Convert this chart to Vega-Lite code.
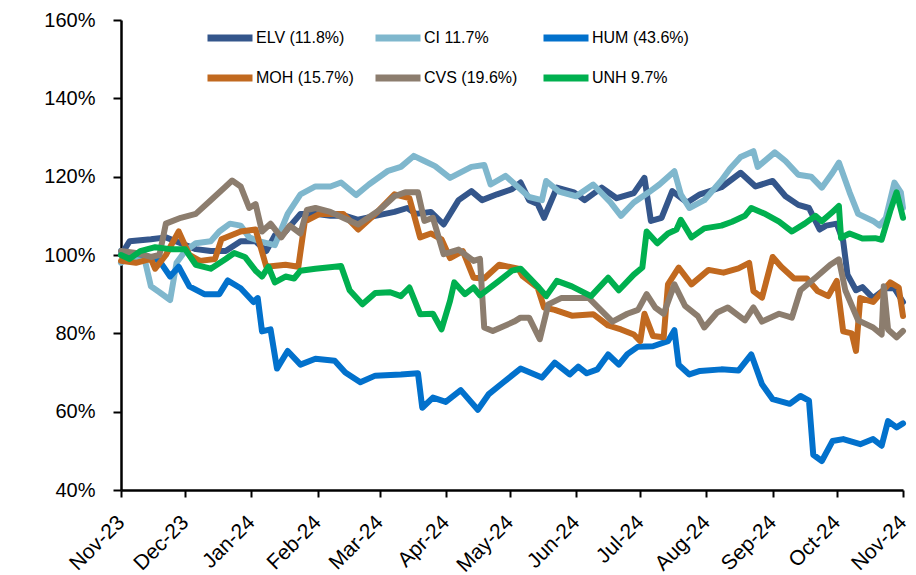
{
"$schema":"https://vega.github.io/schema/vega-lite/v6.json",
"width":782,"height":470,
"autosize":{"type":"none"},
"padding":{"left":121,"top":20,"right":13,"bottom":85},
"background":"white",
"config":{"view":{"stroke":null},"font":"Liberation Sans"},
"data":{"values":[
{"t":"ELV (11.8%)","d":"2023-11-01","v":100},{"t":"ELV (11.8%)","d":"2023-11-05","v":103.5},{"t":"ELV (11.8%)","d":"2023-11-15","v":104},{"t":"ELV (11.8%)","d":"2023-11-22","v":104.5},{"t":"ELV (11.8%)","d":"2023-11-29","v":103},{"t":"ELV (11.8%)","d":"2023-12-06","v":101.5},{"t":"ELV (11.8%)","d":"2023-12-13","v":101},{"t":"ELV (11.8%)","d":"2023-12-20","v":101},{"t":"ELV (11.8%)","d":"2023-12-27","v":103.5},{"t":"ELV (11.8%)","d":"2024-01-03","v":103.5},{"t":"ELV (11.8%)","d":"2024-01-08","v":101},{"t":"ELV (11.8%)","d":"2024-01-12","v":105},{"t":"ELV (11.8%)","d":"2024-01-17","v":106},{"t":"ELV (11.8%)","d":"2024-01-24","v":110.5},{"t":"ELV (11.8%)","d":"2024-01-31","v":110.5},{"t":"ELV (11.8%)","d":"2024-02-07","v":110},{"t":"ELV (11.8%)","d":"2024-02-14","v":110},{"t":"ELV (11.8%)","d":"2024-02-20","v":109},{"t":"ELV (11.8%)","d":"2024-02-28","v":110},{"t":"ELV (11.8%)","d":"2024-03-08","v":111},{"t":"ELV (11.8%)","d":"2024-03-14","v":112},{"t":"ELV (11.8%)","d":"2024-03-18","v":110.5},{"t":"ELV (11.8%)","d":"2024-03-25","v":111},{"t":"ELV (11.8%)","d":"2024-03-31","v":107.8},{"t":"ELV (11.8%)","d":"2024-04-07","v":114},{"t":"ELV (11.8%)","d":"2024-04-13","v":116.3},{"t":"ELV (11.8%)","d":"2024-04-18","v":114},{"t":"ELV (11.8%)","d":"2024-04-25","v":115.5},{"t":"ELV (11.8%)","d":"2024-05-02","v":116.8},{"t":"ELV (11.8%)","d":"2024-05-06","v":118.5},{"t":"ELV (11.8%)","d":"2024-05-10","v":114},{"t":"ELV (11.8%)","d":"2024-05-14","v":113},{"t":"ELV (11.8%)","d":"2024-05-17","v":109.5},{"t":"ELV (11.8%)","d":"2024-05-23","v":117.2},{"t":"ELV (11.8%)","d":"2024-05-31","v":116},{"t":"ELV (11.8%)","d":"2024-06-05","v":114},{"t":"ELV (11.8%)","d":"2024-06-13","v":117.2},{"t":"ELV (11.8%)","d":"2024-06-20","v":114.5},{"t":"ELV (11.8%)","d":"2024-06-28","v":115.8},{"t":"ELV (11.8%)","d":"2024-07-03","v":119.7},{"t":"ELV (11.8%)","d":"2024-07-06","v":108.7},{"t":"ELV (11.8%)","d":"2024-07-11","v":109.5},{"t":"ELV (11.8%)","d":"2024-07-16","v":116.3},{"t":"ELV (11.8%)","d":"2024-07-23","v":113.4},{"t":"ELV (11.8%)","d":"2024-07-29","v":115.5},{"t":"ELV (11.8%)","d":"2024-08-08","v":117.3},{"t":"ELV (11.8%)","d":"2024-08-17","v":121},{"t":"ELV (11.8%)","d":"2024-08-24","v":117.5},{"t":"ELV (11.8%)","d":"2024-09-01","v":118.9},{"t":"ELV (11.8%)","d":"2024-09-07","v":115},{"t":"ELV (11.8%)","d":"2024-09-13","v":112.8},{"t":"ELV (11.8%)","d":"2024-09-18","v":112},{"t":"ELV (11.8%)","d":"2024-09-23","v":106.5},{"t":"ELV (11.8%)","d":"2024-09-26","v":107.5},{"t":"ELV (11.8%)","d":"2024-10-01","v":108},{"t":"ELV (11.8%)","d":"2024-10-04","v":103.6},{"t":"ELV (11.8%)","d":"2024-10-06","v":95},{"t":"ELV (11.8%)","d":"2024-10-10","v":91},{"t":"ELV (11.8%)","d":"2024-10-13","v":91.8},{"t":"ELV (11.8%)","d":"2024-10-18","v":89},{"t":"ELV (11.8%)","d":"2024-10-24","v":91.5},{"t":"ELV (11.8%)","d":"2024-10-28","v":91.5},{"t":"ELV (11.8%)","d":"2024-11-01","v":88},
{"t":"CI 11.7%","d":"2023-11-01","v":98},{"t":"CI 11.7%","d":"2023-11-05","v":99.5},{"t":"CI 11.7%","d":"2023-11-12","v":99},{"t":"CI 11.7%","d":"2023-11-15","v":92},{"t":"CI 11.7%","d":"2023-11-19","v":90.5},{"t":"CI 11.7%","d":"2023-11-24","v":88.5},{"t":"CI 11.7%","d":"2023-11-27","v":98},{"t":"CI 11.7%","d":"2023-12-01","v":101},{"t":"CI 11.7%","d":"2023-12-06","v":103},{"t":"CI 11.7%","d":"2023-12-13","v":103.5},{"t":"CI 11.7%","d":"2023-12-17","v":106},{"t":"CI 11.7%","d":"2023-12-22","v":108},{"t":"CI 11.7%","d":"2023-12-27","v":107.5},{"t":"CI 11.7%","d":"2023-12-31","v":104.5},{"t":"CI 11.7%","d":"2024-01-05","v":103.5},{"t":"CI 11.7%","d":"2024-01-12","v":102.5},{"t":"CI 11.7%","d":"2024-01-18","v":110.5},{"t":"CI 11.7%","d":"2024-01-24","v":115.5},{"t":"CI 11.7%","d":"2024-01-31","v":117.5},{"t":"CI 11.7%","d":"2024-02-07","v":117.5},{"t":"CI 11.7%","d":"2024-02-12","v":118.5},{"t":"CI 11.7%","d":"2024-02-19","v":115.3},{"t":"CI 11.7%","d":"2024-02-25","v":118},{"t":"CI 11.7%","d":"2024-03-05","v":121.5},{"t":"CI 11.7%","d":"2024-03-11","v":122.5},{"t":"CI 11.7%","d":"2024-03-17","v":125.3},{"t":"CI 11.7%","d":"2024-03-22","v":124},{"t":"CI 11.7%","d":"2024-03-27","v":122.7},{"t":"CI 11.7%","d":"2024-04-03","v":119.7},{"t":"CI 11.7%","d":"2024-04-13","v":122.5},{"t":"CI 11.7%","d":"2024-04-19","v":123},{"t":"CI 11.7%","d":"2024-04-22","v":118},{"t":"CI 11.7%","d":"2024-04-29","v":120.2},{"t":"CI 11.7%","d":"2024-05-10","v":114.8},{"t":"CI 11.7%","d":"2024-05-16","v":114},{"t":"CI 11.7%","d":"2024-05-18","v":118.9},{"t":"CI 11.7%","d":"2024-05-24","v":116.2},{"t":"CI 11.7%","d":"2024-06-01","v":115},{"t":"CI 11.7%","d":"2024-06-09","v":118},{"t":"CI 11.7%","d":"2024-06-17","v":113.5},{"t":"CI 11.7%","d":"2024-06-22","v":110},{"t":"CI 11.7%","d":"2024-06-28","v":113.4},{"t":"CI 11.7%","d":"2024-07-05","v":116},{"t":"CI 11.7%","d":"2024-07-10","v":118},{"t":"CI 11.7%","d":"2024-07-17","v":121.4},{"t":"CI 11.7%","d":"2024-07-20","v":115.5},{"t":"CI 11.7%","d":"2024-07-24","v":112},{"t":"CI 11.7%","d":"2024-07-31","v":114},{"t":"CI 11.7%","d":"2024-08-08","v":119},{"t":"CI 11.7%","d":"2024-08-12","v":122},{"t":"CI 11.7%","d":"2024-08-17","v":125},{"t":"CI 11.7%","d":"2024-08-23","v":126.5},{"t":"CI 11.7%","d":"2024-08-25","v":122.5},{"t":"CI 11.7%","d":"2024-09-02","v":126.2},{"t":"CI 11.7%","d":"2024-09-07","v":124},{"t":"CI 11.7%","d":"2024-09-13","v":120.5},{"t":"CI 11.7%","d":"2024-09-19","v":120},{"t":"CI 11.7%","d":"2024-09-24","v":117.2},{"t":"CI 11.7%","d":"2024-09-29","v":121},{"t":"CI 11.7%","d":"2024-10-02","v":123.6},{"t":"CI 11.7%","d":"2024-10-07","v":116},{"t":"CI 11.7%","d":"2024-10-11","v":110.5},{"t":"CI 11.7%","d":"2024-10-18","v":108.7},{"t":"CI 11.7%","d":"2024-10-21","v":107.5},{"t":"CI 11.7%","d":"2024-10-24","v":109.5},{"t":"CI 11.7%","d":"2024-10-28","v":118.5},{"t":"CI 11.7%","d":"2024-10-31","v":116},{"t":"CI 11.7%","d":"2024-11-01","v":112},
{"t":"HUM (43.6%)","d":"2023-11-01","v":101},{"t":"HUM (43.6%)","d":"2023-11-05","v":100.5},{"t":"HUM (43.6%)","d":"2023-11-12","v":100},{"t":"HUM (43.6%)","d":"2023-11-19","v":98.5},{"t":"HUM (43.6%)","d":"2023-11-24","v":94.5},{"t":"HUM (43.6%)","d":"2023-11-28","v":97},{"t":"HUM (43.6%)","d":"2023-12-03","v":92},{"t":"HUM (43.6%)","d":"2023-12-10","v":90},{"t":"HUM (43.6%)","d":"2023-12-17","v":90},{"t":"HUM (43.6%)","d":"2023-12-21","v":93.5},{"t":"HUM (43.6%)","d":"2023-12-27","v":91.5},{"t":"HUM (43.6%)","d":"2024-01-02","v":88},{"t":"HUM (43.6%)","d":"2024-01-04","v":89},{"t":"HUM (43.6%)","d":"2024-01-06","v":80.5},{"t":"HUM (43.6%)","d":"2024-01-10","v":81},{"t":"HUM (43.6%)","d":"2024-01-13","v":71},{"t":"HUM (43.6%)","d":"2024-01-18","v":75.5},{"t":"HUM (43.6%)","d":"2024-01-24","v":72},{"t":"HUM (43.6%)","d":"2024-01-31","v":73.5},{"t":"HUM (43.6%)","d":"2024-02-09","v":73},{"t":"HUM (43.6%)","d":"2024-02-14","v":70},{"t":"HUM (43.6%)","d":"2024-02-21","v":67.5},{"t":"HUM (43.6%)","d":"2024-02-28","v":69.2},{"t":"HUM (43.6%)","d":"2024-03-11","v":69.5},{"t":"HUM (43.6%)","d":"2024-03-19","v":69.8},{"t":"HUM (43.6%)","d":"2024-03-21","v":61},{"t":"HUM (43.6%)","d":"2024-03-26","v":63.6},{"t":"HUM (43.6%)","d":"2024-04-01","v":62.5},{"t":"HUM (43.6%)","d":"2024-04-08","v":65.5},{"t":"HUM (43.6%)","d":"2024-04-16","v":60.5},{"t":"HUM (43.6%)","d":"2024-04-21","v":64.4},{"t":"HUM (43.6%)","d":"2024-04-28","v":67.5},{"t":"HUM (43.6%)","d":"2024-05-06","v":71},{"t":"HUM (43.6%)","d":"2024-05-16","v":68.7},{"t":"HUM (43.6%)","d":"2024-05-22","v":72.5},{"t":"HUM (43.6%)","d":"2024-05-29","v":69.5},{"t":"HUM (43.6%)","d":"2024-06-02","v":71.5},{"t":"HUM (43.6%)","d":"2024-06-06","v":69.8},{"t":"HUM (43.6%)","d":"2024-06-11","v":70.8},{"t":"HUM (43.6%)","d":"2024-06-16","v":74.6},{"t":"HUM (43.6%)","d":"2024-06-21","v":72},{"t":"HUM (43.6%)","d":"2024-06-25","v":74.7},{"t":"HUM (43.6%)","d":"2024-06-30","v":76.6},{"t":"HUM (43.6%)","d":"2024-07-07","v":76.7},{"t":"HUM (43.6%)","d":"2024-07-14","v":78},{"t":"HUM (43.6%)","d":"2024-07-17","v":80.8},{"t":"HUM (43.6%)","d":"2024-07-19","v":72},{"t":"HUM (43.6%)","d":"2024-07-24","v":69.5},{"t":"HUM (43.6%)","d":"2024-07-29","v":70.4},{"t":"HUM (43.6%)","d":"2024-08-08","v":70.8},{"t":"HUM (43.6%)","d":"2024-08-16","v":70.5},{"t":"HUM (43.6%)","d":"2024-08-22","v":74.6},{"t":"HUM (43.6%)","d":"2024-08-27","v":67},{"t":"HUM (43.6%)","d":"2024-09-01","v":63.2},{"t":"HUM (43.6%)","d":"2024-09-09","v":62},{"t":"HUM (43.6%)","d":"2024-09-14","v":64},{"t":"HUM (43.6%)","d":"2024-09-18","v":62.8},{"t":"HUM (43.6%)","d":"2024-09-20","v":49},{"t":"HUM (43.6%)","d":"2024-09-24","v":47.4},{"t":"HUM (43.6%)","d":"2024-09-29","v":52.5},{"t":"HUM (43.6%)","d":"2024-10-04","v":53},{"t":"HUM (43.6%)","d":"2024-10-12","v":51.7},{"t":"HUM (43.6%)","d":"2024-10-18","v":53},{"t":"HUM (43.6%)","d":"2024-10-22","v":51.3},{"t":"HUM (43.6%)","d":"2024-10-25","v":57.6},{"t":"HUM (43.6%)","d":"2024-10-29","v":56},{"t":"HUM (43.6%)","d":"2024-11-01","v":57},
{"t":"MOH (15.7%)","d":"2023-11-01","v":98.5},{"t":"MOH (15.7%)","d":"2023-11-08","v":98},{"t":"MOH (15.7%)","d":"2023-11-15","v":99},{"t":"MOH (15.7%)","d":"2023-11-17","v":96.5},{"t":"MOH (15.7%)","d":"2023-11-22","v":100},{"t":"MOH (15.7%)","d":"2023-11-28","v":106},{"t":"MOH (15.7%)","d":"2023-12-03","v":100},{"t":"MOH (15.7%)","d":"2023-12-08","v":98.5},{"t":"MOH (15.7%)","d":"2023-12-15","v":99},{"t":"MOH (15.7%)","d":"2023-12-18","v":104},{"t":"MOH (15.7%)","d":"2023-12-27","v":106},{"t":"MOH (15.7%)","d":"2024-01-03","v":106.5},{"t":"MOH (15.7%)","d":"2024-01-08","v":97},{"t":"MOH (15.7%)","d":"2024-01-17","v":97.5},{"t":"MOH (15.7%)","d":"2024-01-23","v":97},{"t":"MOH (15.7%)","d":"2024-01-26","v":108.5},{"t":"MOH (15.7%)","d":"2024-02-02","v":110.5},{"t":"MOH (15.7%)","d":"2024-02-13","v":110.5},{"t":"MOH (15.7%)","d":"2024-02-20","v":106.5},{"t":"MOH (15.7%)","d":"2024-02-29","v":111},{"t":"MOH (15.7%)","d":"2024-03-08","v":115.5},{"t":"MOH (15.7%)","d":"2024-03-15","v":114.5},{"t":"MOH (15.7%)","d":"2024-03-20","v":104.5},{"t":"MOH (15.7%)","d":"2024-03-25","v":105.5},{"t":"MOH (15.7%)","d":"2024-03-30","v":104},{"t":"MOH (15.7%)","d":"2024-04-03","v":99.2},{"t":"MOH (15.7%)","d":"2024-04-09","v":101},{"t":"MOH (15.7%)","d":"2024-04-14","v":94.2},{"t":"MOH (15.7%)","d":"2024-04-19","v":94},{"t":"MOH (15.7%)","d":"2024-04-26","v":97.5},{"t":"MOH (15.7%)","d":"2024-05-05","v":96.5},{"t":"MOH (15.7%)","d":"2024-05-07","v":94.6},{"t":"MOH (15.7%)","d":"2024-05-14","v":91.7},{"t":"MOH (15.7%)","d":"2024-05-17","v":86.6},{"t":"MOH (15.7%)","d":"2024-05-22","v":86},{"t":"MOH (15.7%)","d":"2024-05-30","v":84.5},{"t":"MOH (15.7%)","d":"2024-06-09","v":84.9},{"t":"MOH (15.7%)","d":"2024-06-16","v":82},{"t":"MOH (15.7%)","d":"2024-06-22","v":81},{"t":"MOH (15.7%)","d":"2024-06-28","v":79.7},{"t":"MOH (15.7%)","d":"2024-07-01","v":78},{"t":"MOH (15.7%)","d":"2024-07-03","v":85},{"t":"MOH (15.7%)","d":"2024-07-07","v":79.3},{"t":"MOH (15.7%)","d":"2024-07-12","v":79},{"t":"MOH (15.7%)","d":"2024-07-14","v":92.5},{"t":"MOH (15.7%)","d":"2024-07-19","v":96.8},{"t":"MOH (15.7%)","d":"2024-07-25","v":92.5},{"t":"MOH (15.7%)","d":"2024-08-02","v":96.2},{"t":"MOH (15.7%)","d":"2024-08-09","v":95.5},{"t":"MOH (15.7%)","d":"2024-08-16","v":96.6},{"t":"MOH (15.7%)","d":"2024-08-21","v":98},{"t":"MOH (15.7%)","d":"2024-08-23","v":90.8},{"t":"MOH (15.7%)","d":"2024-08-27","v":89.1},{"t":"MOH (15.7%)","d":"2024-09-01","v":99.5},{"t":"MOH (15.7%)","d":"2024-09-05","v":97},{"t":"MOH (15.7%)","d":"2024-09-11","v":94},{"t":"MOH (15.7%)","d":"2024-09-17","v":94},{"t":"MOH (15.7%)","d":"2024-09-22","v":90.8},{"t":"MOH (15.7%)","d":"2024-09-27","v":89.5},{"t":"MOH (15.7%)","d":"2024-10-01","v":93.4},{"t":"MOH (15.7%)","d":"2024-10-04","v":80.5},{"t":"MOH (15.7%)","d":"2024-10-08","v":80},{"t":"MOH (15.7%)","d":"2024-10-10","v":75.5},{"t":"MOH (15.7%)","d":"2024-10-12","v":89},{"t":"MOH (15.7%)","d":"2024-10-18","v":88},{"t":"MOH (15.7%)","d":"2024-10-26","v":93},{"t":"MOH (15.7%)","d":"2024-10-30","v":91.7},{"t":"MOH (15.7%)","d":"2024-11-01","v":84.4},
{"t":"CVS (19.6%)","d":"2023-11-01","v":101},{"t":"CVS (19.6%)","d":"2023-11-08","v":100.5},{"t":"CVS (19.6%)","d":"2023-11-15","v":99.5},{"t":"CVS (19.6%)","d":"2023-11-19","v":100},{"t":"CVS (19.6%)","d":"2023-11-22","v":108},{"t":"CVS (19.6%)","d":"2023-11-29","v":109.5},{"t":"CVS (19.6%)","d":"2023-12-06","v":110.5},{"t":"CVS (19.6%)","d":"2023-12-13","v":114},{"t":"CVS (19.6%)","d":"2023-12-20","v":117.5},{"t":"CVS (19.6%)","d":"2023-12-23","v":119},{"t":"CVS (19.6%)","d":"2023-12-27","v":117.5},{"t":"CVS (19.6%)","d":"2023-12-31","v":112},{"t":"CVS (19.6%)","d":"2024-01-03","v":113},{"t":"CVS (19.6%)","d":"2024-01-06","v":106},{"t":"CVS (19.6%)","d":"2024-01-10","v":108},{"t":"CVS (19.6%)","d":"2024-01-15","v":104.5},{"t":"CVS (19.6%)","d":"2024-01-19","v":107.5},{"t":"CVS (19.6%)","d":"2024-01-24","v":105.5},{"t":"CVS (19.6%)","d":"2024-01-27","v":111.5},{"t":"CVS (19.6%)","d":"2024-01-31","v":112},{"t":"CVS (19.6%)","d":"2024-02-07","v":111},{"t":"CVS (19.6%)","d":"2024-02-15","v":109},{"t":"CVS (19.6%)","d":"2024-02-20","v":107.8},{"t":"CVS (19.6%)","d":"2024-03-01","v":111.5},{"t":"CVS (19.6%)","d":"2024-03-08","v":115},{"t":"CVS (19.6%)","d":"2024-03-13","v":116},{"t":"CVS (19.6%)","d":"2024-03-19","v":116},{"t":"CVS (19.6%)","d":"2024-03-22","v":108.7},{"t":"CVS (19.6%)","d":"2024-03-26","v":109.5},{"t":"CVS (19.6%)","d":"2024-03-31","v":100.2},{"t":"CVS (19.6%)","d":"2024-04-07","v":101.4},{"t":"CVS (19.6%)","d":"2024-04-14","v":98.5},{"t":"CVS (19.6%)","d":"2024-04-17","v":99},{"t":"CVS (19.6%)","d":"2024-04-19","v":81.5},{"t":"CVS (19.6%)","d":"2024-04-23","v":80.6},{"t":"CVS (19.6%)","d":"2024-05-03","v":83},{"t":"CVS (19.6%)","d":"2024-05-06","v":84},{"t":"CVS (19.6%)","d":"2024-05-10","v":84},{"t":"CVS (19.6%)","d":"2024-05-15","v":78.5},{"t":"CVS (19.6%)","d":"2024-05-19","v":87.4},{"t":"CVS (19.6%)","d":"2024-05-25","v":89},{"t":"CVS (19.6%)","d":"2024-05-31","v":89},{"t":"CVS (19.6%)","d":"2024-06-07","v":89},{"t":"CVS (19.6%)","d":"2024-06-18","v":83},{"t":"CVS (19.6%)","d":"2024-06-25","v":85},{"t":"CVS (19.6%)","d":"2024-06-30","v":86},{"t":"CVS (19.6%)","d":"2024-07-04","v":90},{"t":"CVS (19.6%)","d":"2024-07-08","v":86.6},{"t":"CVS (19.6%)","d":"2024-07-12","v":85},{"t":"CVS (19.6%)","d":"2024-07-17","v":92.5},{"t":"CVS (19.6%)","d":"2024-07-22","v":87},{"t":"CVS (19.6%)","d":"2024-07-28","v":84.4},{"t":"CVS (19.6%)","d":"2024-07-31","v":81.5},{"t":"CVS (19.6%)","d":"2024-08-06","v":85.3},{"t":"CVS (19.6%)","d":"2024-08-11","v":86.6},{"t":"CVS (19.6%)","d":"2024-08-19","v":83.3},{"t":"CVS (19.6%)","d":"2024-08-23","v":86.6},{"t":"CVS (19.6%)","d":"2024-08-27","v":83},{"t":"CVS (19.6%)","d":"2024-09-04","v":85},{"t":"CVS (19.6%)","d":"2024-09-10","v":84},{"t":"CVS (19.6%)","d":"2024-09-14","v":91},{"t":"CVS (19.6%)","d":"2024-09-21","v":94.2},{"t":"CVS (19.6%)","d":"2024-09-28","v":97.5},{"t":"CVS (19.6%)","d":"2024-10-02","v":98.9},{"t":"CVS (19.6%)","d":"2024-10-05","v":91},{"t":"CVS (19.6%)","d":"2024-10-11","v":83.3},{"t":"CVS (19.6%)","d":"2024-10-18","v":81.5},{"t":"CVS (19.6%)","d":"2024-10-22","v":79.7},{"t":"CVS (19.6%)","d":"2024-10-23","v":92},{"t":"CVS (19.6%)","d":"2024-10-25","v":81},{"t":"CVS (19.6%)","d":"2024-10-29","v":79},{"t":"CVS (19.6%)","d":"2024-11-01","v":80.6},
{"t":"UNH 9.7%","d":"2023-11-01","v":100},{"t":"UNH 9.7%","d":"2023-11-05","v":99},{"t":"UNH 9.7%","d":"2023-11-10","v":101},{"t":"UNH 9.7%","d":"2023-11-17","v":102},{"t":"UNH 9.7%","d":"2023-11-24","v":101.5},{"t":"UNH 9.7%","d":"2023-12-01","v":101.5},{"t":"UNH 9.7%","d":"2023-12-06","v":97.5},{"t":"UNH 9.7%","d":"2023-12-13","v":96.5},{"t":"UNH 9.7%","d":"2023-12-20","v":99},{"t":"UNH 9.7%","d":"2023-12-24","v":100.5},{"t":"UNH 9.7%","d":"2023-12-29","v":99.5},{"t":"UNH 9.7%","d":"2024-01-03","v":96},{"t":"UNH 9.7%","d":"2024-01-06","v":94.5},{"t":"UNH 9.7%","d":"2024-01-09","v":97},{"t":"UNH 9.7%","d":"2024-01-12","v":93},{"t":"UNH 9.7%","d":"2024-01-17","v":94.5},{"t":"UNH 9.7%","d":"2024-01-21","v":94},{"t":"UNH 9.7%","d":"2024-01-24","v":96},{"t":"UNH 9.7%","d":"2024-01-31","v":96.5},{"t":"UNH 9.7%","d":"2024-02-09","v":97},{"t":"UNH 9.7%","d":"2024-02-12","v":97.2},{"t":"UNH 9.7%","d":"2024-02-16","v":91},{"t":"UNH 9.7%","d":"2024-02-22","v":87.4},{"t":"UNH 9.7%","d":"2024-02-28","v":90.3},{"t":"UNH 9.7%","d":"2024-03-06","v":90.5},{"t":"UNH 9.7%","d":"2024-03-11","v":89.5},{"t":"UNH 9.7%","d":"2024-03-15","v":91.7},{"t":"UNH 9.7%","d":"2024-03-20","v":84.9},{"t":"UNH 9.7%","d":"2024-03-26","v":85},{"t":"UNH 9.7%","d":"2024-03-30","v":81},{"t":"UNH 9.7%","d":"2024-04-03","v":88.3},{"t":"UNH 9.7%","d":"2024-04-05","v":93},{"t":"UNH 9.7%","d":"2024-04-10","v":90},{"t":"UNH 9.7%","d":"2024-04-14","v":91.7},{"t":"UNH 9.7%","d":"2024-04-17","v":89.7},{"t":"UNH 9.7%","d":"2024-04-25","v":93},{"t":"UNH 9.7%","d":"2024-05-02","v":96},{"t":"UNH 9.7%","d":"2024-05-06","v":96.5},{"t":"UNH 9.7%","d":"2024-05-14","v":92},{"t":"UNH 9.7%","d":"2024-05-18","v":89.5},{"t":"UNH 9.7%","d":"2024-05-23","v":93.4},{"t":"UNH 9.7%","d":"2024-05-30","v":92},{"t":"UNH 9.7%","d":"2024-06-08","v":89.5},{"t":"UNH 9.7%","d":"2024-06-16","v":94.2},{"t":"UNH 9.7%","d":"2024-06-21","v":91},{"t":"UNH 9.7%","d":"2024-06-28","v":95},{"t":"UNH 9.7%","d":"2024-07-02","v":96.8},{"t":"UNH 9.7%","d":"2024-07-04","v":106},{"t":"UNH 9.7%","d":"2024-07-09","v":103},{"t":"UNH 9.7%","d":"2024-07-14","v":105.5},{"t":"UNH 9.7%","d":"2024-07-18","v":106.5},{"t":"UNH 9.7%","d":"2024-07-20","v":109},{"t":"UNH 9.7%","d":"2024-07-25","v":104.5},{"t":"UNH 9.7%","d":"2024-07-31","v":106.8},{"t":"UNH 9.7%","d":"2024-08-08","v":107.5},{"t":"UNH 9.7%","d":"2024-08-13","v":108.5},{"t":"UNH 9.7%","d":"2024-08-19","v":110},{"t":"UNH 9.7%","d":"2024-08-22","v":112},{"t":"UNH 9.7%","d":"2024-08-28","v":110.6},{"t":"UNH 9.7%","d":"2024-09-04","v":108.5},{"t":"UNH 9.7%","d":"2024-09-10","v":106},{"t":"UNH 9.7%","d":"2024-09-16","v":108},{"t":"UNH 9.7%","d":"2024-09-21","v":110},{"t":"UNH 9.7%","d":"2024-09-24","v":108.6},{"t":"UNH 9.7%","d":"2024-09-29","v":111},{"t":"UNH 9.7%","d":"2024-10-02","v":112.5},{"t":"UNH 9.7%","d":"2024-10-03","v":104.4},{"t":"UNH 9.7%","d":"2024-10-07","v":105.5},{"t":"UNH 9.7%","d":"2024-10-13","v":104.2},{"t":"UNH 9.7%","d":"2024-10-19","v":104.3},{"t":"UNH 9.7%","d":"2024-10-22","v":103.9},{"t":"UNH 9.7%","d":"2024-10-26","v":111.2},{"t":"UNH 9.7%","d":"2024-10-29","v":116},{"t":"UNH 9.7%","d":"2024-11-01","v":109.5}
]},
"mark":{"type":"line","strokeWidth":6,"strokeJoin":"round","strokeCap":"round"},
"encoding":{
"x":{"field":"d","type":"temporal",
"scale":{"type":"utc","domain":[{"year":2023,"month":11,"date":1,"utc":true},{"year":2024,"month":11,"date":1,"utc":true}]},
"axis":{"title":null,"format":"%b-%y","tickCount":{"interval":"month","step":1},"grid":false,"domainColor":"black","domainWidth":2.5,"tickColor":"black","tickWidth":2,"tickSize":7,"labelAngle":-45,"labelAlign":"right","labelBaseline":"middle","labelFontSize":21,"labelColor":"black","labelPadding":22,"labelOverlap":false,"labelFlush":false,"labelBound":false}},
"y":{"field":"v","type":"quantitative",
"scale":{"domain":[40,160],"nice":false,"zero":false},
"axis":{"title":null,"values":[40,60,80,100,120,140,160],"labelExpr":"datum.value + '%'","grid":false,"domainColor":"black","domainWidth":2.5,"tickColor":"black","tickWidth":2,"tickSize":8,"labelFontSize":20,"labelColor":"black","labelPadding":18}},
"color":{"field":"t","type":"nominal",
"scale":{"domain":["ELV (11.8%)","CI 11.7%","HUM (43.6%)","MOH (15.7%)","CVS (19.6%)","UNH 9.7%"],"range":["#34568B","#7FB7CD","#0271CC","#C1691F","#8C7D6E","#00B04F"]},
"legend":{"title":null,"orient":"none","legendX":83,"legendY":-8,"columns":3,"direction":"horizontal","symbolType":"stroke","symbolSize":2025,"symbolStrokeWidth":7,"labelFontSize":16,"labelColor":"black","labelOffset":0,"rowPadding":-17,"columnPadding":7,"gridAlign":"all","padding":0,"symbolOffset":0}}
}
}
